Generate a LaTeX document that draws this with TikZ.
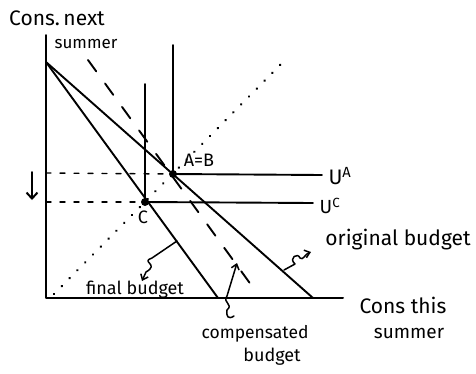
\documentclass[tikz,border=0pt]{standalone}
\usepackage{fontspec}
\setmainfont{Fira Sans}
\usetikzlibrary{arrows.meta}
\begin{document}
\begin{tikzpicture}[x=1pt,y=-1pt,line width=1.8pt,line cap=round,line join=round,
  axisline/.style={line width=2pt},
  budgetline/.style={line width=1.9pt},
  compline/.style={line width=1.9pt,dash pattern=on 14pt off 15pt},
  diagdots/.style={line width=2.6pt,dash pattern=on 0.1pt off 11pt},
  guidedash/.style={line width=1.4pt,dash pattern=on 5pt off 9pt},
  pointdot/.style={circle,fill=black,inner sep=0pt,minimum size=8pt},
  hand/.style={inner sep=0pt,font=\fontsize{17}{19}\selectfont},
  pointer/.style={line width=1.5pt,-{Straight Barb[length=5pt,width=8pt]}}]
\useasboundingbox (0,0) rectangle (476,373);
% axes
\coordinate (O) at (46,298);
\coordinate (ytop) at (46,35);
\coordinate (xend) at (343,298);
\draw[axisline] (ytop) -- (O) -- (xend);
% budget lines
\coordinate (B0) at (46,62);
\coordinate (origEnd) at (313,298);
\coordinate (finEnd) at (218,298);
\coordinate (compStart) at (88,60);
\coordinate (compEnd) at (257,293);
\draw[budgetline] (B0) -- (origEnd);
\draw[budgetline] (B0) -- (finEnd);
\draw[compline] (compStart) -- (compEnd);
% diagonal dotted
\coordinate (d0) at (54,294);
\coordinate (d1) at (287,58);
\draw[diagdots] (d0) -- (d1);
% points
\node[pointdot] (A) at (173,174) {};
\node[pointdot] (C) at (145,202) {};
% indifference curves
\coordinate (UAtop) at (173,45);
\coordinate (UAend) at (322,175);
\coordinate (UCtop) at (145,84);
\coordinate (UCend) at (313,203);
\draw[budgetline] (UAtop) -- (A.center) -- (UAend);
\draw[budgetline] (UCtop) -- (C.center) -- (UCend);
% guides
\coordinate (gA) at (46,173);
\coordinate (gC) at (46,202);
\draw[guidedash] (gA) -- (A);
\draw[guidedash] (gC) -- (C);
% down arrow
\coordinate (da1) at (32,172);
\coordinate (da2) at (32,200);
\draw[line width=2pt,-{Straight Barb[length=6pt,width=11pt]}] (da1) -- (da2);
% labels
\node[hand,font=\fontsize{21}{23}\selectfont] (ylab) at (57,18) {Cons.\,next};
\node[hand] (ylab2) at (86,44) {summer};
\node[hand,font=\fontsize{18}{20}\selectfont] (lAB) at (199,160) {A=B};
\node[hand,font=\fontsize{18}{20}\selectfont] (lC) at (143,217) {C};
\node[hand,font=\fontsize{21}{23}\selectfont] (lUA) at (340,176) {U$^{\mathrm{A}}$};
\node[hand,font=\fontsize{19}{21}\selectfont] (lUC) at (330,206) {U$^{\mathrm{C}}$};
\node[hand,font=\fontsize{21}{23}\selectfont] (lorig) at (398,240) {original budget};
\node[hand,font=\fontsize{18}{20}\selectfont] (lfin) at (135,290) {final budget};
\node[hand,font=\fontsize{17.5}{19}\selectfont] (lcomp1) at (255,334) {compensated};
\node[hand,font=\fontsize{18}{20}\selectfont] (lcomp2) at (272,357) {budget};
\node[hand,font=\fontsize{21}{23}\selectfont] (lx1) at (403,305) {Cons this};
\node[hand,font=\fontsize{19}{21}\selectfont] (lx2) at (409,333) {summer};
% pointer squiggles
\coordinate (pf0) at (177,241);
\coordinate (pf1) at (152,258);
\coordinate (pf2) at (146,272);
\coordinate (pf3) at (142,281);
\draw[pointer] (pf0) -- (pf1) .. controls (140,262) and (160,264) .. (pf2) -- (pf3);
\coordinate (po0) at (284,270);
\coordinate (po1) at (295,264);
\coordinate (po2) at (300,258);
\coordinate (po3) at (311,252);
\draw[pointer] (po0) -- (po1) .. controls (288,258) and (298,252) .. (po2) .. controls (303,261) and (305,254) .. (po3);
\coordinate (pc0) at (234,316);
\coordinate (pc1) at (227,310);
\coordinate (pc2) at (227,296);
\coordinate (pc3) at (237,263);
\draw[pointer] (pc0) .. controls (228,320) and (226,316) .. (pc1) .. controls (234,304) and (222,303) .. (pc2) -- (pc3);
\end{tikzpicture}
\end{document}
